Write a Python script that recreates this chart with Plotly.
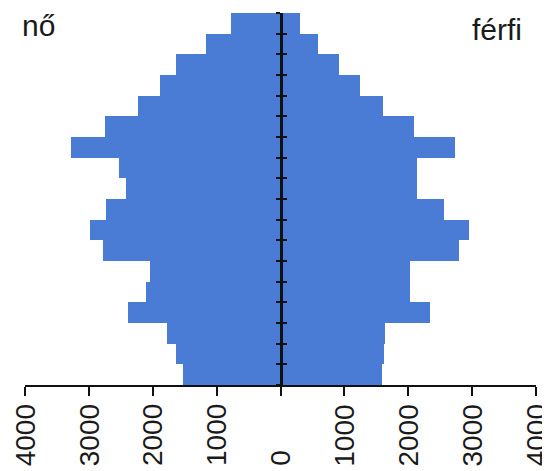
import plotly.graph_objects as go

# age groups, bottom to top
age_groups = ["0-4", "5-9", "10-14", "15-19", "20-24", "25-29", "30-34", "35-39", "40-44",
              "45-49", "50-54", "55-59", "60-64", "65-69", "70-74", "75-79", "80-84", "85+"]

# women (nő), bottom to top
women = [1530, 1640, 1770, 2390, 2110, 2050, 2780, 2980, 2730,
         2420, 2530, 3280, 2750, 2230, 1890, 1640, 1170, 770]

# men (férfi), bottom to top
men = [1590, 1620, 1640, 2340, 2030, 2030, 2800, 2950, 2560,
       2140, 2140, 2730, 2090, 1610, 1250, 920, 590, 310]

tick_vals = [-4000, -3000, -2000, -1000, 0, 1000, 2000, 3000, 4000]
tick_text = ["4000", "3000", "2000", "1000", "0", "1000", "2000", "3000", "4000"]

bar_color = "#4a7bd5"
font_family = "Liberation Sans, Arial, sans-serif"

fig = go.Figure()
fig.add_trace(go.Bar(
    y=age_groups, x=[-v for v in women], orientation="h", name="nő",
    marker=dict(color=bar_color, line=dict(width=0)), hoverinfo="skip",
))
fig.add_trace(go.Bar(
    y=age_groups, x=men, orientation="h", name="férfi",
    marker=dict(color=bar_color, line=dict(width=0)), hoverinfo="skip",
))
# invisible copy so the second y axis (inner ticks of the centre line) has categories
fig.add_trace(go.Bar(
    y=age_groups, x=men, orientation="h", yaxis="y2", showlegend=False,
    marker=dict(color="rgba(0,0,0,0)", line=dict(width=0)), hoverinfo="skip",
))

# rotated tick labels, bottom aligned
annotations = []
for v, t in zip(tick_vals, tick_text):
    annotations.append(dict(
        x=v, xref="x", y=-0.224, yref="paper", text=t, textangle=-90,
        showarrow=False, xanchor="center", yanchor="bottom",
        font=dict(family=font_family, size=28, color="#1a1a1a"),
    ))
annotations.append(dict(
    x=-0.01, xref="paper", y=1.016, yref="paper", text="nő", showarrow=False,
    xanchor="left", yanchor="top", font=dict(family=font_family, size=30, color="#1a1a1a"),
))
annotations.append(dict(
    x=0.976, xref="paper", y=1.005, yref="paper", text="férfi", showarrow=False,
    xanchor="right", yanchor="top", font=dict(family=font_family, size=30, color="#1a1a1a"),
))

axis_y_common = dict(
    type="category", categoryorder="array", categoryarray=age_groups,
    range=[-0.5, len(age_groups) - 0.5], showgrid=False, zeroline=False,
    showticklabels=False, showline=True, linecolor="#111", linewidth=3,
    tickson="boundaries", ticklen=4, tickwidth=2, tickcolor="#111",
    anchor="free", position=0.5,
)

# page body has an 8px default margin, so the margins are shifted by that
fig.update_layout(
    width=550, height=471,
    margin=dict(l=17, r=22, t=5, b=94),
    paper_bgcolor="white", plot_bgcolor="white",
    barmode="relative", bargap=0,
    showlegend=False,
    xaxis=dict(
        range=[-4000, 4000], tickvals=tick_vals, showticklabels=False,
        ticks="outside", ticklen=9, tickwidth=2, tickcolor="#111",
        showline=True, linecolor="#111", linewidth=2,
        showgrid=False, zeroline=False,
    ),
    yaxis=dict(ticks="outside", **axis_y_common),
    yaxis2=dict(ticks="inside", overlaying="y", side="left", **axis_y_common),
    annotations=annotations,
)

fig.write_html("out.html")
